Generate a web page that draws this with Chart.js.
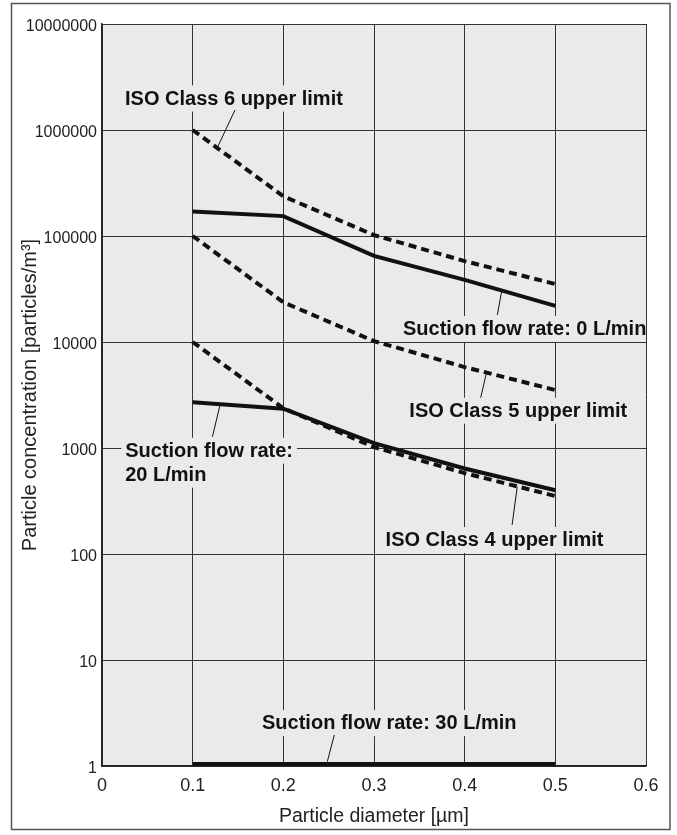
<!DOCTYPE html>
<html>
<head>
<meta charset="utf-8">
<script src="https://cdn.jsdelivr.net/npm/chart.js@4.4.1/dist/chart.umd.min.js"></script>
<style>
  html, body { margin: 0; padding: 0; background: #fff; }
  .chart-box { width: 677px; height: 835px; }
</style>
</head>
<body>
<div class="chart-box"><canvas id="chart" width="677" height="835"></canvas></div>
<script>
// values
const diameters = [0.1, 0.2, 0.3, 0.4, 0.5];
const flow0 = [170000, 154000, 65000, 38600, 21900];
const flow20 = [2700, 2350, 1110, 640, 400];
const flow30 = [1, 1, 1, 1, 1];
const isoClass6 = [1000000, 237000, 102000, 58000, 35200];
const isoClass5 = [100000, 23700, 10200, 5800, 3520];
const isoClass4 = [10000, 2370, 1020, 580, 352];
const xTicks = [0, 0.1, 0.2, 0.3, 0.4, 0.5, 0.6];
const yTicks = [1, 10, 100, 1000, 10000, 100000, 1000000, 10000000];

const PLOT_BG = "#e9eae9";
const INK = "#111";
const LABEL_FONT = "bold 20px 'Liberation Sans', Arial, sans-serif";

// callout text (left x / baseline y in data units) and leader line from curve to text
const callouts = [
  { lines: ["ISO Class 6 upper limit"], x: 0.0254, y: 1.74e6, from: [0.1272, 6.81e5], to: [0.1467, 1.545e6] },
  { lines: ["Suction flow rate: 0 L/min"], x: 0.332, y: 11650, from: [0.441, 30600], to: [0.436, 18000] },
  { lines: ["ISO Class 5 upper limit"], x: 0.339, y: 1973, from: [0.4243, 5250], to: [0.4177, 2982] },
  { lines: ["Suction flow rate:", "20 L/min"], x: 0.0256, y: 828, from: [0.1304, 2590], to: [0.1218, 1278] },
  { lines: ["ISO Class 4 upper limit"], x: 0.3128, y: 119, from: [0.458, 431], to: [0.4523, 188] },
  { lines: ["Suction flow rate: 30 L/min"], x: 0.1765, y: 2.23, from: [0.2485, 1.1], to: [0.2562, 1.96] }
];
const LINE_STEP = 24;

function points(values) {
  return diameters.map((d, i) => ({ x: d, y: values[i] }));
}

const plotBackground = {
  id: "plotBackground",
  beforeDraw(chart) {
    const { ctx, chartArea: a } = chart;
    ctx.save();
    ctx.fillStyle = "#fff";
    ctx.fillRect(0, 0, chart.width, chart.height);
    ctx.strokeStyle = "#555";
    ctx.lineWidth = 1.5;
    ctx.strokeRect(11.5, 3.5, 658.5, 826);
    ctx.fillStyle = PLOT_BG;
    ctx.fillRect(a.left, a.top, a.right - a.left, a.bottom - a.top);
    ctx.restore();
  }
};

const calloutLabels = {
  id: "calloutLabels",
  beforeDatasetsDraw(chart) {
    // cut the grid out behind each label
    const { ctx, chartArea: a, scales: { x, y } } = chart;
    ctx.save();
    ctx.beginPath();
    ctx.rect(a.left + 1, a.top + 1, a.right - a.left - 2, a.bottom - a.top - 2);
    ctx.clip();
    ctx.font = LABEL_FONT;
    ctx.fillStyle = PLOT_BG;
    callouts.forEach(c => {
      const left = x.getPixelForValue(c.x);
      const base = y.getPixelForValue(c.y);
      c.lines.forEach((t, i) => {
        const w = ctx.measureText(t).width;
        ctx.fillRect(left - 4, base + i * LINE_STEP - 19, w + 8, 26);
      });
    });
    ctx.restore();
  },
  afterDatasetsDraw(chart) {
    const { ctx, scales: { x, y } } = chart;
    ctx.save();
    ctx.strokeStyle = INK;
    ctx.lineWidth = 1;
    ctx.fillStyle = INK;
    ctx.font = LABEL_FONT;
    ctx.textAlign = "left";
    ctx.textBaseline = "alphabetic";
    callouts.forEach(c => {
      ctx.beginPath();
      ctx.moveTo(x.getPixelForValue(c.from[0]), y.getPixelForValue(c.from[1]));
      ctx.lineTo(x.getPixelForValue(c.to[0]), y.getPixelForValue(c.to[1]));
      ctx.stroke();
      const left = x.getPixelForValue(c.x);
      const base = y.getPixelForValue(c.y);
      c.lines.forEach((t, i) => ctx.fillText(t, left, base + i * LINE_STEP));
    });
    ctx.restore();
  }
};

const solid = { borderColor: INK, borderWidth: 4, pointRadius: 0, tension: 0, fill: false };
const dashed = { ...solid, borderDash: [8, 5], borderCapStyle: "butt" };

new Chart(document.getElementById("chart"), {
  type: "line",
  data: {
    datasets: [
      { label: "Suction flow rate: 0 L/min", data: points(flow0), ...solid },
      { label: "Suction flow rate: 20 L/min", data: points(flow20), ...solid },
      { label: "Suction flow rate: 30 L/min", data: points(flow30), ...solid, borderWidth: 8, clip: 0 },
      { label: "ISO Class 6 upper limit", data: points(isoClass6), ...dashed },
      { label: "ISO Class 5 upper limit", data: points(isoClass5), ...dashed },
      { label: "ISO Class 4 upper limit", data: points(isoClass4), ...dashed }
    ]
  },
  options: {
    responsive: false,
    animation: false,
    devicePixelRatio: 1,
    layout: { padding: { left: 12, top: 24, right: 31, bottom: 0 } },
    plugins: {
      legend: { display: false },
      tooltip: { enabled: false }
    },
    scales: {
      x: {
        type: "linear",
        min: 0,
        max: 0.6,
        afterBuildTicks: s => { s.ticks = xTicks.map(v => ({ value: v })); },
        afterFit: s => { s.height = 69; },
        grid: { color: "#333", lineWidth: 1, drawTicks: false },
        border: { color: "#222", width: 1.5 },
        ticks: {
          color: "#222",
          font: { family: "Liberation Sans", size: 18 },
          padding: 9,
          maxRotation: 0,
          autoSkip: false,
          callback: v => String(+Number(v).toFixed(1))
        },
        title: {
          display: true,
          text: "Particle diameter [µm]",
          color: "#222",
          font: { family: "Liberation Sans", size: 19.5 },
          padding: { top: 0, bottom: 7 }
        }
      },
      y: {
        type: "logarithmic",
        min: 1,
        max: 10000000,
        afterBuildTicks: s => { s.ticks = yTicks.map(v => ({ value: v })); },
        afterFit: s => { s.width = 90; },
        grid: { color: "#333", lineWidth: 1, drawTicks: false },
        border: { color: "#222", width: 1.5 },
        ticks: {
          color: "#222",
          font: { family: "Liberation Sans", size: 16 },
          padding: 5,
          labelOffset: 3,
          autoSkip: false,
          callback: v => String(v)
        },
        title: {
          display: true,
          text: "Particle concentration [particles/m³]",
          color: "#222",
          font: { family: "Liberation Sans", size: 20 },
          padding: { top: 6, bottom: 0 }
        }
      }
    }
  },
  plugins: [plotBackground, calloutLabels]
});
</script>
</body>
</html>
